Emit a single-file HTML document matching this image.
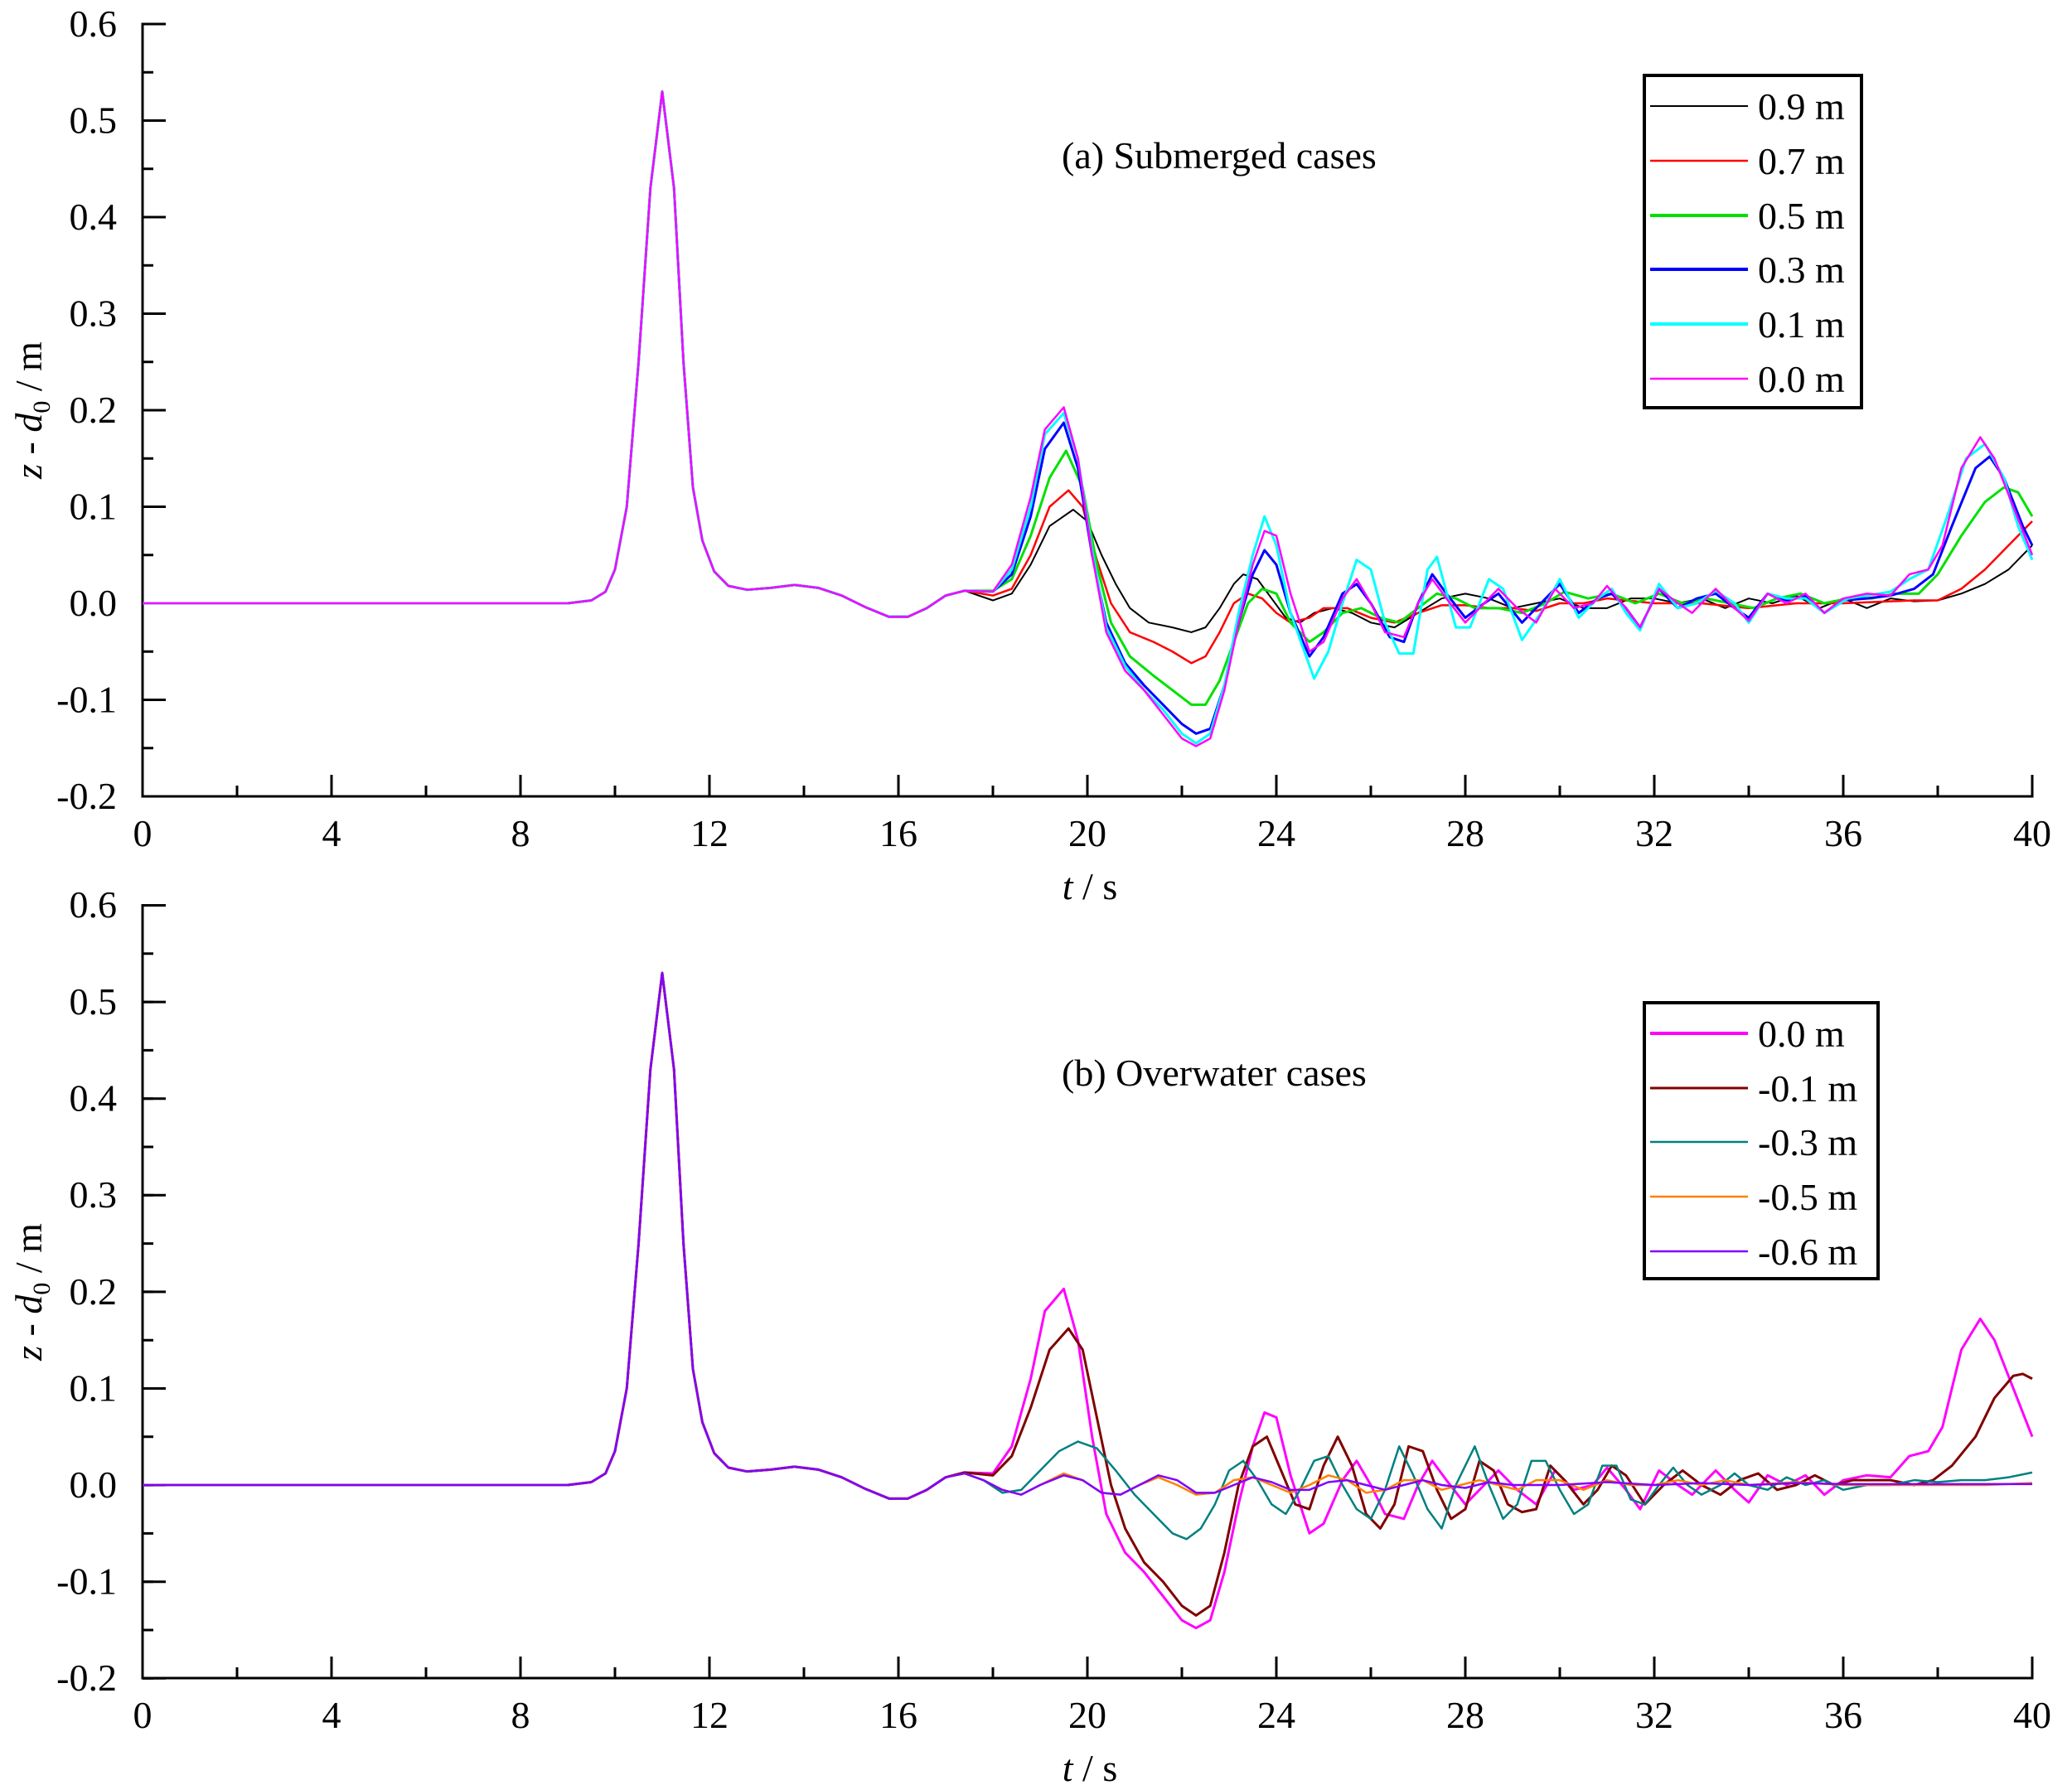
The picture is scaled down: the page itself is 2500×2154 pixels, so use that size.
<!DOCTYPE html>
<html><head><meta charset="utf-8"><style>
html,body{margin:0;padding:0;background:#fff;}
svg{display:block;}
text{font-family:"Times New Roman",Times,"Liberation Serif","DejaVu Serif",serif;fill:#000;font-size:46px;}
polyline{fill:none;vector-effect:non-scaling-stroke;stroke-linejoin:round;}
</style></head><body>
<svg width="2500" height="2154" viewBox="0 0 2500 2154" xmlns="http://www.w3.org/2000/svg" font-family="Times New Roman, Liberation Serif, serif">
<g stroke="#000">
<line x1="172" y1="27.5" x2="172" y2="962.5" stroke-width="3"/>
<line x1="170.5" y1="961" x2="2453.5" y2="961" stroke-width="3"/>
<line x1="186" y1="27.5" x2="186" y2="963" stroke-width="28" stroke-dasharray="3,113.5"/>
<line x1="178.5" y1="27.5" x2="178.5" y2="963" stroke-width="13" stroke-dasharray="3,55.25"/>
<line x1="170.5" y1="948" x2="2454" y2="948" stroke-width="26" stroke-dasharray="3,225"/>
<line x1="170.5" y1="954.5" x2="2454" y2="954.5" stroke-width="13" stroke-dasharray="3,111"/>
</g>
<g text-anchor="end">
<text x="141" y="44">0.6</text><text x="141" y="160.5">0.5</text><text x="141" y="277">0.4</text>
<text x="141" y="393.5">0.3</text><text x="141" y="510">0.2</text><text x="141" y="626.5">0.1</text>
<text x="141" y="743">0.0</text><text x="141" y="859.5">-0.1</text><text x="141" y="976">-0.2</text>
</g>
<g text-anchor="middle">
<text x="172" y="1021">0</text><text x="400" y="1021">4</text><text x="628" y="1021">8</text><text x="856" y="1021">12</text>
<text x="1084" y="1021">16</text><text x="1312" y="1021">20</text><text x="1540" y="1021">24</text><text x="1768" y="1021">28</text>
<text x="1996" y="1021">32</text><text x="2224" y="1021">36</text><text x="2452" y="1021">40</text>
<text x="1315" y="1085"><tspan font-style="italic">t</tspan> / s</text>
<text transform="translate(50,495) rotate(-90)"><tspan font-style="italic">z</tspan> - <tspan font-style="italic">d</tspan><tspan font-size="30" dy="10">0</tspan><tspan dy="-10"> / m</tspan></text>
</g>
<text x="1281" y="203">(a) Submerged cases</text>

<g transform="translate(172,728) scale(57,-1165)">
<polyline stroke="#000" stroke-width="2" points="0,0 9,0 9.5,.003 9.8,.012 10,.035 10.25,.1 10.5,.25 10.75,.43 11,.53 11.25,.43 11.45,.25 11.65,.12 11.85,.065 12.1,.033 12.4,.018 12.8,.014 13.3,.016 13.8,.019 14.3,.016 14.8,.008 15.3,-.004 15.8,-.014 16.2,-.014 16.6,-.005 17,.008 17.4,.013 18,.003 18.4,.01 18.8,.04 19.2,.08 19.7,.097 20.0,.085 20.3,.05 20.6,.02 20.9,-.005 21.3,-.02 21.8,-.025 22.2,-.03 22.5,-.025 22.8,-.005 23.1,.02 23.3,.03 23.6,.025 23.9,.005 24.2,-.015 24.5,-.02 24.8,-.01 25.2,-.005 25.6,-.01 26,-.02 26.5,-.025 27,-.01 27.5,.005 28,.01 28.5,.005 29,-.005 29.5,0 30,.005 30.5,-.005 31,-.005 31.5,.005 32,.005 32.5,0 33,.005 33.5,-.005 34,.005 34.5,0 35,.008 35.5,-.005 36,.005 36.5,-.005 37,.005 37.5,.002 38,.003 38.5,.01 39,.02 39.5,.035 40,.06"/>
<polyline stroke="#ff0000" stroke-width="2.5" points="0,0 9,0 9.5,.003 9.8,.012 10,.035 10.25,.1 10.5,.25 10.75,.43 11,.53 11.25,.43 11.45,.25 11.65,.12 11.85,.065 12.1,.033 12.4,.018 12.8,.014 13.3,.016 13.8,.019 14.3,.016 14.8,.008 15.3,-.004 15.8,-.014 16.2,-.014 16.6,-.005 17,.008 17.4,.013 18,.008 18.4,.015 18.8,.05 19.2,.1 19.6,.117 19.9,.1 20.2,.045 20.5,0 20.9,-.03 21.4,-.04 21.8,-.05 22.2,-.062 22.5,-.055 22.8,-.03 23.1,0 23.4,.01 23.7,.005 24,-.01 24.3,-.02 24.7,-.015 25,-.005 25.5,-.005 26,-.015 26.5,-.02 27,-.01 27.5,-.002 28,-.002 28.5,-.005 29,-.005 29.5,-.008 30,0 30.5,0 31,.005 32,0 33,0 34,-.005 35,0 36,0 37,.002 37.5,.003 38,.003 38.5,.015 39,.035 39.5,.06 40,.085"/>
<polyline stroke="#00e000" stroke-width="3" points="0,0 9,0 9.5,.003 9.8,.012 10,.035 10.25,.1 10.5,.25 10.75,.43 11,.53 11.25,.43 11.45,.25 11.65,.12 11.85,.065 12.1,.033 12.4,.018 12.8,.014 13.3,.016 13.8,.019 14.3,.016 14.8,.008 15.3,-.004 15.8,-.014 16.2,-.014 16.6,-.005 17,.008 17.4,.013 18,.013 18.4,.025 18.8,.07 19.2,.13 19.55,.158 19.9,.12 20.2,.04 20.5,-.02 20.9,-.055 21.4,-.075 21.8,-.09 22.2,-.105 22.5,-.105 22.8,-.08 23.1,-.04 23.4,0 23.7,.015 24,.01 24.3,-.02 24.7,-.04 25,-.03 25.4,-.01 25.8,-.005 26.2,-.015 26.6,-.02 27,-.005 27.4,.01 27.8,.005 28.2,-.005 28.7,-.005 29.2,-.01 29.7,0 30.1,.012 30.6,.005 31.1,.01 31.6,0 32.1,.01 32.6,0 33.1,.005 33.6,0 34.1,-.005 34.6,.005 35.1,.01 35.6,0 36.1,.005 36.6,.005 37.1,.01 37.6,.01 38,.03 38.5,.07 39,.105 39.4,.12 39.7,.115 40,.09"/>
<polyline stroke="#0000ff" stroke-width="3" points="0,0 9,0 9.5,.003 9.8,.012 10,.035 10.25,.1 10.5,.25 10.75,.43 11,.53 11.25,.43 11.45,.25 11.65,.12 11.85,.065 12.1,.033 12.4,.018 12.8,.014 13.3,.016 13.8,.019 14.3,.016 14.8,.008 15.3,-.004 15.8,-.014 16.2,-.014 16.6,-.005 17,.008 17.4,.013 18,.012 18.4,.03 18.8,.09 19.1,.16 19.5,.187 19.8,.14 20.1,.05 20.4,-.02 20.8,-.062 21.2,-.085 21.6,-.105 22,-.125 22.3,-.135 22.6,-.13 22.9,-.085 23.2,-.02 23.5,.03 23.75,.055 24,.04 24.3,-.01 24.7,-.055 25,-.035 25.4,.01 25.7,.02 26,0 26.4,-.035 26.7,-.04 27,0 27.3,.03 27.6,.01 28,-.015 28.4,0 28.7,.01 29.2,-.02 29.6,0 30,.02 30.4,-.01 30.8,.005 31.1,.01 31.4,-.005 31.7,-.025 32.1,.015 32.5,-.005 32.9,.005 33.3,.01 33.7,-.005 34,-.015 34.4,.01 34.8,.003 35.2,.008 35.6,-.01 36,.003 36.5,.005 37,.008 37.5,.015 37.9,.03 38.3,.08 38.8,.14 39.1,.152 39.4,.13 39.8,.08 40,.06"/>
<polyline stroke="#00ffff" stroke-width="3" points="0,0 9,0 9.5,.003 9.8,.012 10,.035 10.25,.1 10.5,.25 10.75,.43 11,.53 11.25,.43 11.45,.25 11.65,.12 11.85,.065 12.1,.033 12.4,.018 12.8,.014 13.3,.016 13.8,.019 14.3,.016 14.8,.008 15.3,-.004 15.8,-.014 16.2,-.014 16.6,-.005 17,.008 17.4,.013 18,.012 18.4,.035 18.8,.1 19.1,.175 19.5,.197 19.8,.15 20.1,.055 20.4,-.025 20.8,-.065 21.2,-.09 21.6,-.11 22,-.135 22.3,-.145 22.6,-.135 22.9,-.085 23.2,-.01 23.5,.05 23.75,.09 24,.06 24.3,-.01 24.8,-.078 25.1,-.05 25.4,0 25.7,.045 26,.035 26.3,-.02 26.6,-.052 26.9,-.052 27.2,.035 27.4,.048 27.8,-.025 28.1,-.025 28.5,.025 28.8,.015 29.2,-.038 29.6,-.01 30,.025 30.4,-.015 30.8,.005 31.1,.015 31.4,-.01 31.7,-.028 32.1,.02 32.5,-.005 32.9,0 33.3,.013 33.7,0 34,-.02 34.4,.01 34.8,.005 35.2,.005 35.6,-.01 36.1,.005 36.5,.008 37,.012 37.4,.025 37.8,.035 38.2,.09 38.6,.15 39,.165 39.4,.13 39.7,.08 40,.045"/>
<polyline stroke="#ff00ff" stroke-width="2.5" points="0,0 9,0 9.5,.003 9.8,.012 10,.035 10.25,.1 10.5,.25 10.75,.43 11,.53 11.25,.43 11.45,.25 11.65,.12 11.85,.065 12.1,.033 12.4,.018 12.8,.014 13.3,.016 13.8,.019 14.3,.016 14.8,.008 15.3,-.004 15.8,-.014 16.2,-.014 16.6,-.005 17,.008 17.4,.013 18,.012 18.4,.04 18.8,.11 19.1,.18 19.5,.203 19.8,.15 20.1,.05 20.4,-.03 20.8,-.07 21.2,-.09 21.6,-.115 22,-.14 22.3,-.148 22.6,-.14 22.9,-.09 23.2,-.02 23.5,.04 23.75,.075 24,.07 24.3,.01 24.7,-.05 25,-.04 25.4,.005 25.7,.025 26,0 26.3,-.03 26.7,-.035 27,0 27.3,.025 27.6,.005 28,-.02 28.4,0 28.7,.015 29.1,-.005 29.5,-.02 29.9,.015 30.3,-.005 30.7,0 31,.018 31.4,-.005 31.7,-.025 32.1,.015 32.5,0 32.8,-.01 33.3,.015 33.7,-.005 34,-.018 34.4,.01 34.8,0 35.2,.01 35.6,-.01 36,.005 36.5,.01 37,.008 37.4,.03 37.8,.035 38.1,.06 38.5,.14 38.9,.172 39.2,.15 39.6,.1 40,.05"/>
</g>

<rect x="1984" y="91" width="262" height="401" fill="#fff" stroke="#000" stroke-width="4"/>
<line x1="1991" y1="128" x2="2109" y2="128" stroke="#000" stroke-width="2"/><text x="2121" y="144">0.9 m</text>
<line x1="1991" y1="194" x2="2109" y2="194" stroke="#ff0000" stroke-width="2.5"/><text x="2121" y="210">0.7 m</text>
<line x1="1991" y1="260" x2="2109" y2="260" stroke="#00e000" stroke-width="4"/><text x="2121" y="276">0.5 m</text>
<line x1="1991" y1="325" x2="2109" y2="325" stroke="#0000ff" stroke-width="4"/><text x="2121" y="341">0.3 m</text>
<line x1="1991" y1="391" x2="2109" y2="391" stroke="#00ffff" stroke-width="4"/><text x="2121" y="407">0.1 m</text>
<line x1="1991" y1="457" x2="2109" y2="457" stroke="#ff00ff" stroke-width="2.5"/><text x="2121" y="473">0.0 m</text>

<g stroke="#000">
<line x1="172" y1="1091" x2="172" y2="2026.5" stroke-width="3"/>
<line x1="170.5" y1="2025" x2="2453.5" y2="2025" stroke-width="3"/>
<line x1="186" y1="1091" x2="186" y2="2027" stroke-width="28" stroke-dasharray="3,113.6"/>
<line x1="178.5" y1="1091" x2="178.5" y2="2027" stroke-width="13" stroke-dasharray="3,55.3"/>
<line x1="170.5" y1="2012" x2="2454" y2="2012" stroke-width="26" stroke-dasharray="3,225"/>
<line x1="170.5" y1="2018.5" x2="2454" y2="2018.5" stroke-width="13" stroke-dasharray="3,111"/>
</g>
<g text-anchor="end">
<text x="141" y="1107">0.6</text><text x="141" y="1224">0.5</text><text x="141" y="1340.6">0.4</text>
<text x="141" y="1457.2">0.3</text><text x="141" y="1573.8">0.2</text><text x="141" y="1690.4">0.1</text>
<text x="141" y="1807">0.0</text><text x="141" y="1923.6">-0.1</text><text x="141" y="2040.2">-0.2</text>
</g>
<g text-anchor="middle">
<text x="172" y="2085">0</text><text x="400" y="2085">4</text><text x="628" y="2085">8</text><text x="856" y="2085">12</text>
<text x="1084" y="2085">16</text><text x="1312" y="2085">20</text><text x="1540" y="2085">24</text><text x="1768" y="2085">28</text>
<text x="1996" y="2085">32</text><text x="2224" y="2085">36</text><text x="2452" y="2085">40</text>
<text x="1315" y="2149"><tspan font-style="italic">t</tspan> / s</text>
<text transform="translate(50,1559) rotate(-90)"><tspan font-style="italic">z</tspan> - <tspan font-style="italic">d</tspan><tspan font-size="30" dy="10">0</tspan><tspan dy="-10"> / m</tspan></text>
</g>
<text x="1281" y="1310">(b) Overwater cases</text>

<g transform="translate(172,1792) scale(57,-1166)">
<polyline stroke="#ff00ff" stroke-width="3" points="0,0 9,0 9.5,.003 9.8,.012 10,.035 10.25,.1 10.5,.25 10.75,.43 11,.53 11.25,.43 11.45,.25 11.65,.12 11.85,.065 12.1,.033 12.4,.018 12.8,.014 13.3,.016 13.8,.019 14.3,.016 14.8,.008 15.3,-.004 15.8,-.014 16.2,-.014 16.6,-.005 17,.008 17.4,.013 18,.012 18.4,.04 18.8,.11 19.1,.18 19.5,.203 19.8,.15 20.1,.05 20.4,-.03 20.8,-.07 21.2,-.09 21.6,-.115 22,-.14 22.3,-.148 22.6,-.14 22.9,-.09 23.2,-.02 23.5,.04 23.75,.075 24,.07 24.3,.01 24.7,-.05 25,-.04 25.4,.005 25.7,.025 26,0 26.3,-.03 26.7,-.035 27,0 27.3,.025 27.6,.005 28,-.02 28.4,0 28.7,.015 29.1,-.005 29.5,-.02 29.9,.015 30.3,-.005 30.7,0 31,.018 31.4,-.005 31.7,-.025 32.1,.015 32.5,0 32.8,-.01 33.3,.015 33.7,-.005 34,-.018 34.4,.01 34.8,0 35.2,.01 35.6,-.01 36,.005 36.5,.01 37,.008 37.4,.03 37.8,.035 38.1,.06 38.5,.14 38.9,.172 39.2,.15 39.6,.1 40,.05"/>
<polyline stroke="#800000" stroke-width="3" points="0,0 9,0 9.5,.003 9.8,.012 10,.035 10.25,.1 10.5,.25 10.75,.43 11,.53 11.25,.43 11.45,.25 11.65,.12 11.85,.065 12.1,.033 12.4,.018 12.8,.014 13.3,.016 13.8,.019 14.3,.016 14.8,.008 15.3,-.004 15.8,-.014 16.2,-.014 16.6,-.005 17,.008 17.4,.013 18,.01 18.4,.03 18.8,.08 19.2,.14 19.6,.162 19.9,.14 20.2,.07 20.5,0 20.8,-.045 21.2,-.08 21.6,-.1 22,-.125 22.3,-.135 22.6,-.125 22.9,-.07 23.2,0 23.5,.04 23.8,.05 24.1,.015 24.4,-.02 24.7,-.025 25,.02 25.3,.05 25.6,.02 25.9,-.03 26.2,-.045 26.5,-.02 26.8,.04 27.1,.035 27.4,-.005 27.7,-.035 28,-.025 28.3,.025 28.6,.015 28.9,-.02 29.2,-.028 29.5,-.025 29.8,.02 30.1,.005 30.5,-.02 30.8,-.005 31.1,.02 31.4,.01 31.8,-.02 32.2,0 32.6,.015 33,0 33.4,-.01 33.8,.005 34.2,.012 34.6,-.005 35,0 35.4,.01 35.8,0 36.2,.005 36.6,.005 37,.005 37.5,0 37.9,.005 38.3,.02 38.8,.05 39.2,.09 39.6,.113 39.8,.115 40,.11"/>
<polyline stroke="#008080" stroke-width="2.5" points="0,0 9,0 9.5,.003 9.8,.012 10,.035 10.25,.1 10.5,.25 10.75,.43 11,.53 11.25,.43 11.45,.25 11.65,.12 11.85,.065 12.1,.033 12.4,.018 12.8,.014 13.3,.016 13.8,.019 14.3,.016 14.8,.008 15.3,-.004 15.8,-.014 16.2,-.014 16.6,-.005 17,.008 17.4,.012 17.8,.005 18.2,-.008 18.6,-.005 19,.015 19.4,.035 19.8,.045 20.2,.038 20.6,.015 21,-.01 21.4,-.03 21.8,-.05 22.1,-.056 22.4,-.045 22.7,-.02 23,.015 23.3,.025 23.6,.005 23.9,-.02 24.2,-.03 24.5,-.005 24.8,.025 25.1,.03 25.4,0 25.7,-.025 26,-.035 26.3,-.005 26.6,.04 26.9,.01 27.2,-.025 27.5,-.045 27.8,0 28.2,.04 28.5,0 28.8,-.035 29.1,-.02 29.4,.025 29.7,.025 30,-.005 30.3,-.03 30.6,-.02 30.9,.02 31.2,.02 31.5,-.015 31.8,-.02 32.1,0 32.4,.018 32.7,0 33,-.01 33.4,0 33.7,.012 34,0 34.4,-.005 34.8,.008 35.2,0 35.6,.005 36,-.005 36.5,0 37,0 37.5,.005 38,.003 38.5,.005 39,.005 39.5,.008 40,.013"/>
<polyline stroke="#ff8000" stroke-width="2.5" points="0,0 9,0 9.5,.003 9.8,.012 10,.035 10.25,.1 10.5,.25 10.75,.43 11,.53 11.25,.43 11.45,.25 11.65,.12 11.85,.065 12.1,.033 12.4,.018 12.8,.014 13.3,.016 13.8,.019 14.3,.016 14.8,.008 15.3,-.004 15.8,-.014 16.2,-.014 16.6,-.005 17,.008 17.4,.012 17.8,.005 18.2,-.005 18.6,-.01 19,0 19.5,.012 19.9,.005 20.3,-.008 20.7,-.01 21.1,0 21.5,.008 21.9,0 22.3,-.01 22.7,-.008 23.1,.005 23.5,.008 23.9,0 24.3,-.008 24.7,0 25.1,.01 25.5,.005 25.9,-.008 26.3,-.005 26.7,.005 27.1,.005 27.5,-.005 27.9,0 28.3,.005 28.7,0 29.1,-.005 29.5,.005 30,.005 30.5,-.005 31,.005 31.5,0 32,0 32.5,.005 33,0 33.5,.005 34,0 35,.003 36,0 37,0 38,0 39,0 40,.002"/>
<polyline stroke="#8000ff" stroke-width="2.5" points="0,0 9,0 9.5,.003 9.8,.012 10,.035 10.25,.1 10.5,.25 10.75,.43 11,.53 11.25,.43 11.45,.25 11.65,.12 11.85,.065 12.1,.033 12.4,.018 12.8,.014 13.3,.016 13.8,.019 14.3,.016 14.8,.008 15.3,-.004 15.8,-.014 16.2,-.014 16.6,-.005 17,.008 17.4,.012 17.8,.005 18.2,-.005 18.6,-.01 19,0 19.5,.01 19.9,.005 20.3,-.008 20.7,-.01 21.1,0 21.5,.01 21.9,.005 22.3,-.008 22.7,-.008 23.1,0 23.5,.008 23.9,.003 24.3,-.005 24.7,-.005 25.1,.003 25.5,.005 25.9,0 26.3,-.005 26.7,0 27.1,.005 27.5,0 28,-.003 28.5,.003 29,0 30,0 31,.003 32,0 33,.002 34,0 35,.002 36,.001 37,.001 38,.001 39,.001 40,.001"/>
</g>

<rect x="1984" y="1210" width="282" height="333" fill="#fff" stroke="#000" stroke-width="4"/>
<line x1="1991" y1="1247" x2="2109" y2="1247" stroke="#ff00ff" stroke-width="4"/><text x="2121" y="1263">0.0 m</text>
<line x1="1991" y1="1313" x2="2109" y2="1313" stroke="#800000" stroke-width="3"/><text x="2121" y="1329">-0.1 m</text>
<line x1="1991" y1="1378" x2="2109" y2="1378" stroke="#008080" stroke-width="2.5"/><text x="2121" y="1394">-0.3 m</text>
<line x1="1991" y1="1444" x2="2109" y2="1444" stroke="#ff8000" stroke-width="2.5"/><text x="2121" y="1460">-0.5 m</text>
<line x1="1991" y1="1510" x2="2109" y2="1510" stroke="#8000ff" stroke-width="2.5"/><text x="2121" y="1526">-0.6 m</text>
</svg>
</body></html>
